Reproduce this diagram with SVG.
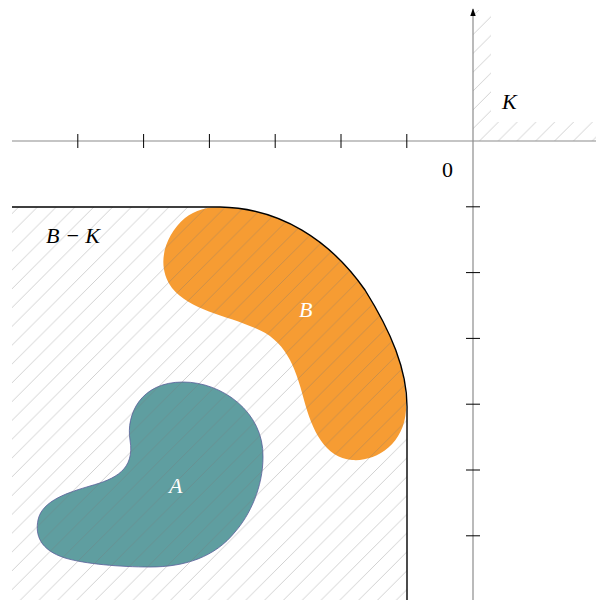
<svg xmlns="http://www.w3.org/2000/svg" width="596" height="600" viewBox="0 0 596 600">
<style>
.lbl{font-family:"Liberation Serif","DejaVu Serif",serif;font-style:italic;font-size:22px;fill:#000}
.wlbl{font-family:"Liberation Serif","DejaVu Serif",serif;font-style:italic;font-size:22px;fill:#fff}
.num{font-family:"Liberation Serif","DejaVu Serif",serif;font-size:22px;fill:#000}
.axis{stroke:#8c8c8c;stroke-width:1.2;fill:none}
.tick{stroke:#000;stroke-width:1;fill:none}
</style>
<defs>
<pattern id="hatch" patternUnits="userSpaceOnUse" x="0" y="0" width="18.8" height="18.8">
<path d="M-2,2 L2,-2 M0,18.8 L18.8,0 M16.8,20.8 L20.8,16.8" stroke="#777" stroke-opacity="0.42" stroke-width="0.8"/>
</pattern>
<clipPath id="kclip">
<path d="M473,10 L491,10 L491,122 L596,122 L596,141 L473,141 Z"/>
</clipPath>
<marker id="arr" viewBox="0 0 10 10" refX="9" refY="5" markerWidth="8" markerHeight="8" orient="auto" markerUnits="userSpaceOnUse">
<path d="M0,1.5 L10,5 L0,8.5 Z" fill="#000"/>
</marker>
</defs>
<g id="A">
<path d="M183,382 C222,382 264,412 263,457 C263,487 250,515 235,532 C215,557 185,567 150,567 C120,567 85,564 65,558 C40,550 35,535 38,520 C42,500 70,492 90,486 C115,479 135,470 130,440 C126,415 140,382 183,382 Z" fill="#5f9ea0" stroke="#5a5e9a" stroke-width="0.8"/>
<text class="wlbl" x="169" y="493">A</text>
</g>
<g id="B">
<path d="M220,207 C280,208 330,240 365,290 C390,330 408,370 406,410 C404,445 375,462 352,460 C325,458 312,430 304,400 C295,365 285,340 255,328 C225,315 190,310 172,288 C155,265 165,235 185,218 C195,210 208,207 220,207 Z" fill="#f69c33"/>
</g>
<g id="BminusK">
<path d="M12,207 L220,207 C280,208 330,240 365,290 C390,330 408,370 407,410 L407,600 L12,600 Z" fill="url(#hatch)"/>
<path d="M12,207 L220,207 C280,208 330,240 365,290 C390,330 408,370 407,410 L407,600" fill="none" stroke="#000" stroke-width="1.4"/>
<text class="lbl" x="46" y="243">B − K</text>
</g>
<text class="wlbl" x="299" y="317">B</text>
<g id="K">
<rect x="473" y="10" width="123" height="131" fill="url(#hatch)" clip-path="url(#kclip)"/>
<text class="lbl" x="502" y="109">K</text>
</g>
<g id="axes">
<line class="axis" x1="12" y1="141" x2="596" y2="141"/>
<line class="axis" x1="473" y1="600" x2="473" y2="9" marker-end="url(#arr)"/>
<path class="tick" d="M77.8,134 V148 M143.6,134 V148 M209.4,134 V148 M275.2,134 V148 M341,134 V148 M406.8,134 V148"/>
<path class="tick" d="M466,206.8 H480 M466,272.6 H480 M466,338.4 H480 M466,404.2 H480 M466,470 H480 M466,535.8 H480"/>
<text class="num" x="442" y="177">0</text>
</g>
</svg>
